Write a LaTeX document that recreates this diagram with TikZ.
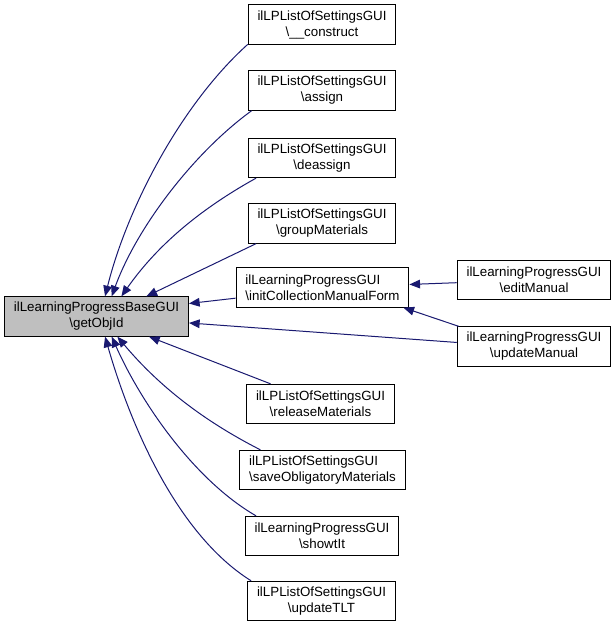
\documentclass[tikz,border=0pt]{standalone}
\usepackage{fontspec}
\setmainfont{Liberation Sans}
\usetikzlibrary{arrows.meta}
\definecolor{callblue}{HTML}{191970}
\definecolor{basegrey}{HTML}{BFBFBF}
\begin{document}
\begin{tikzpicture}[
x=0.75pt,y=0.75pt,
fn/.style={draw,line width=0.75pt,inner xsep=7pt,inner ysep=2pt,minimum height=29.5pt,align=center,font=\fontsize{10}{12}\selectfont},
base/.style={fn,fill=basegrey},
call/.style={draw=callblue,line width=0.75pt,-{Triangle[length=8pt,width=6.5pt]}},
]
\useasboundingbox (0,0) rectangle (616,-627);
\node[base] (main) at (96.5,-316.5) {ilLearningProgressBaseGUI\\\textbackslash getObjId};
\node[fn] (construct) at (322,-24.5) {ilLPListOfSettingsGUI\\\textbackslash\_\_construct};
\node[fn] (assign) at (322,-90.5) {ilLPListOfSettingsGUI\\\textbackslash assign};
\node[fn] (deassign) at (322,-158) {ilLPListOfSettingsGUI\\\textbackslash deassign};
\node[fn] (group) at (322,-223.5) {ilLPListOfSettingsGUI\\\textbackslash groupMaterials};
\node[fn,align=left] (initcoll) at (322.5,-287.5) {ilLearningProgressGUI\\\textbackslash initCollectionManualForm};
\node[fn] (release) at (320.5,-404) {ilLPListOfSettingsGUI\\\textbackslash releaseMaterials};
\node[fn,align=left] (save) at (322.5,-470) {ilLPListOfSettingsGUI\\\textbackslash saveObligatoryMaterials};
\node[fn] (showtit) at (322,-536) {ilLearningProgressGUI\\\textbackslash showtIt};
\node[fn] (updatetlt) at (321.5,-601) {ilLPListOfSettingsGUI\\\textbackslash updateTLT};
\node[fn] (editmanual) at (534,-280) {ilLearningProgressGUI\\\textbackslash editManual};
\node[fn] (updatemanual) at (534,-346.5) {ilLearningProgressGUI\\\textbackslash updateManual};
\draw[call] (construct.195) to[out=222,in=76,looseness=0.8] (main.67);
\draw[call] (assign.196) to[out=216,in=70,looseness=0.8] (main.53);
\draw[call] (deassign.197) to[out=209,in=55,looseness=0.9] (main.39);
\draw[call] (group.197) -- (main.22);
\draw[call] (initcoll.187) -- (main.8);
\draw[call] (editmanual.182) -- (initcoll.2);
\draw[call] (updatemanual.165) -- (initcoll.-14);
\draw[call] (updatemanual.177) -- (main.-4);
\draw[call] (release.158) -- (main.-21);
\draw[call] (save.162) to[out=153,in=-50,looseness=0.9] (main.-44);
\draw[call] (showtit.163) to[out=150,in=-66,looseness=0.8] (main.-53);
\draw[call] (updatetlt.164) to[out=148,in=-74,looseness=0.8] (main.-67.5);
\end{tikzpicture}
\end{document}
